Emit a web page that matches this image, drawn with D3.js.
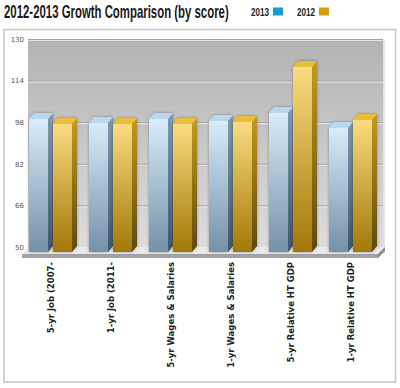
<!DOCTYPE html>
<html>
<head>
<meta charset="utf-8">
<script src="https://cdn.jsdelivr.net/npm/d3@7"></script>
<style>
  body { margin: 0; background: #fff; }
  svg { display: block; }
</style>
</head>
<body>
<script>
// Growth comparison, 2013 vs 2012, by score

var categories = ["5-yr Job (2007-", "1-yr Job (2011-", "5-yr Wages & Salaries",
                  "1-yr Wages & Salaries", "5-yr Relative HT GDP", "1-yr Relative HT GDP"];
var series = ["2013", "2012"];
var values2013 = [101.2, 99.6, 101.2, 100.4, 103.5, 97.7];
var values2012 = [99.2, 99.2, 99.2, 100, 121.2, 100.8];
var yTicks = [50, 66, 82, 98, 114, 130];

var width = 400,
    height = 388;

var svg = d3.select("body").append("svg")
    .attr("width", width)
    .attr("height", height);

var defs = svg.append("defs");

function vGrad(id, top, bottom) {
  var g = defs.append("linearGradient").attr("id", id)
    .attr("x1", 0).attr("y1", 0).attr("x2", 0).attr("y2", 1);
  g.append("stop").attr("offset", "0%").attr("stop-color", top);
  g.append("stop").attr("offset", "100%").attr("stop-color", bottom);
}
vGrad("wall", "#b3b3b3", "#dedede");
vGrad("blueFront", "#d8ecfa", "#7591a8");
vGrad("blueSide", "#7e9ab2", "#3f566c");
vGrad("goldFront", "#fadc80", "#a27806");
vGrad("goldSide", "#c49a1e", "#614804");

var shadow = defs.append("filter").attr("id", "glow")
  .attr("x", "-30%").attr("y", "-10%").attr("width", "160%").attr("height", "120%");
shadow.append("feGaussianBlur").attr("in", "SourceAlpha").attr("stdDeviation", 1.5).attr("result", "b");
shadow.append("feComponentTransfer").attr("in", "b").attr("result", "s")
  .append("feFuncA").attr("type", "linear").attr("slope", 0.35);
var fm = shadow.append("feMerge");
fm.append("feMergeNode").attr("in", "s");
fm.append("feMergeNode").attr("in", "SourceGraphic");

// title (squeezed horizontally to look like the condensed original)
var title = svg.append("text")
  .style("font-family", "'Liberation Sans', Arial, sans-serif")
  .style("font-weight", "bold").style("font-size", "18px").style("fill", "#1a1a1a")
  .text("2012-2013 Growth Comparison (by score)");
var titleLen = title.node().getComputedTextLength();
title.attr("transform", "translate(4,18) scale(" + (225 / titleLen) + ",1)");

// legend
var legendColors = { "2013": "#1b9ad4", "2012": "#d4a012" };
var legendX = { "2013": 251, "2012": 297 };
series.forEach(function(s) {
  var t = svg.append("text")
    .style("font-family", "'Liberation Sans', Arial, sans-serif")
    .style("font-weight", "bold").style("font-size", "11px").style("fill", "#222")
    .text(s);
  var len = t.node().getComputedTextLength();
  t.attr("transform", "translate(" + legendX[s] + ",15.5) scale(" + (18 / len) + ",1)");
  svg.append("rect")
    .attr("x", legendX[s] + 22).attr("y", 7.5).attr("width", 10).attr("height", 8)
    .style("fill", legendColors[s]);
});

// frame
svg.append("rect")
  .attr("x", 4).attr("y", 29.5).attr("width", 391.5).attr("height", 352.5)
  .style("fill", "#fff").style("stroke", "#c4c4c4").style("stroke-width", 1.5);

// scales
var y = d3.scaleLinear().domain([50, 130]).range([247, 39]);
var x0 = d3.scaleBand().domain(categories).range([23, 383]).paddingInner(0.2).paddingOuter(0.1);
var x1 = d3.scaleBand().domain(series).range([0, x0.bandwidth()]);

var depthX = 5, depthY = 6, drop = 5;
var frontW = x1.bandwidth() - depthX;

// back wall
svg.append("rect")
  .attr("x", 28).attr("y", y(130)).attr("width", 355).attr("height", y(50) - y(130) + 6)
  .style("fill", "url(#wall)");
svg.append("rect")
  .attr("x", 383).attr("y", y(130) + 1).attr("width", 2).attr("height", y(50) - y(130) + 5)
  .style("fill", "#e4e4e4");

// gridlines
var yAxis = d3.axisLeft(y).tickValues(yTicks).tickSize(-355).tickPadding(4);
var gAxis = svg.append("g").attr("transform", "translate(28,0)").call(yAxis);
gAxis.select(".domain").remove();
gAxis.selectAll(".tick line").style("stroke", "#a4a4a4").style("stroke-width", 1);
gAxis.selectAll(".tick").append("line")
  .attr("x1", 0).attr("x2", 355).attr("y1", 1).attr("y2", 1)
  .style("stroke", "#e6e6e6").style("stroke-width", 1);
gAxis.selectAll(".tick text")
  .style("font-family", "'DejaVu Sans', Verdana, sans-serif")
  .style("font-size", "7px").style("fill", "#555");

// floor slab
var floorTop = y(50) + drop + 1;
svg.append("path")
  .attr("d", "M22," + (floorTop + 1) + "L378," + (floorTop + 1) + "L385," + (floorTop - 6) +
             "L29," + (floorTop - 6) + "Z")
  .style("fill", "#e9e9e9");
svg.append("path")
  .attr("d", "M22," + (floorTop + 1) + "L378," + (floorTop + 1) + "L378," + (floorTop + 5) +
             "L22," + (floorTop + 5) + "Z")
  .style("fill", "#a2a2a2");
svg.append("path")
  .attr("d", "M378," + (floorTop + 1) + "L385," + (floorTop - 6) + "L385," + (floorTop - 2) +
             "L378," + (floorTop + 5) + "Z")
  .style("fill", "#8c8c8c");

// bars
var rows = categories.map(function(c, i) {
  return { cat: c, vals: [{ s: "2013", v: values2013[i] }, { s: "2012", v: values2012[i] }] };
});

var groups = svg.selectAll(".grp").data(rows).enter().append("g")
  .attr("class", "grp")
  .attr("transform", function(d) { return "translate(" + x0(d.cat) + ",0)"; });

var bars = groups.selectAll(".bar").data(function(d) { return d.vals; }).enter().append("g")
  .attr("class", "bar")
  .attr("filter", "url(#glow)");

bars.append("rect")
  .attr("x", function(d) { return x1(d.s); })
  .attr("y", function(d) { return y(d.v) + drop; })
  .attr("width", frontW)
  .attr("height", function(d) { return y(50) - y(d.v); })
  .style("fill", function(d) { return d.s === "2013" ? "url(#blueFront)" : "url(#goldFront)"; });

bars.append("path")
  .attr("d", function(d) {
    var l = x1(d.s) + frontW, t = y(d.v) + drop, b = y(50) + drop;
    return "M" + l + "," + t + "L" + (l + depthX) + "," + (t - depthY) +
           "L" + (l + depthX) + "," + (b - depthY) + "L" + l + "," + b + "Z";
  })
  .style("fill", function(d) { return d.s === "2013" ? "url(#blueSide)" : "url(#goldSide)"; });

bars.append("path")
  .attr("d", function(d) {
    var l = x1(d.s), t = y(d.v) + drop;
    return "M" + l + "," + t + "L" + (l + depthX) + "," + (t - depthY) +
           "L" + (l + frontW + depthX) + "," + (t - depthY) + "L" + (l + frontW) + "," + t + "Z";
  })
  .style("fill", function(d) { return d.s === "2013" ? "#b9d8ee" : "#e9be3e"; });

// category labels
svg.selectAll(".cat").data(categories).enter().append("text")
  .attr("class", "cat")
  .attr("transform", function(c) {
    return "translate(" + (x0(c) + (x1.bandwidth() * 2 - depthX) / 2 + 3.5) + ",262) rotate(-90)";
  })
  .attr("text-anchor", "end")
  .style("font-family", "'DejaVu Sans', Verdana, sans-serif")
  .style("font-weight", "bold").style("font-size", "8.5px").style("fill", "#222")
  .text(function(c) { return c; });
</script>
</body>
</html>
